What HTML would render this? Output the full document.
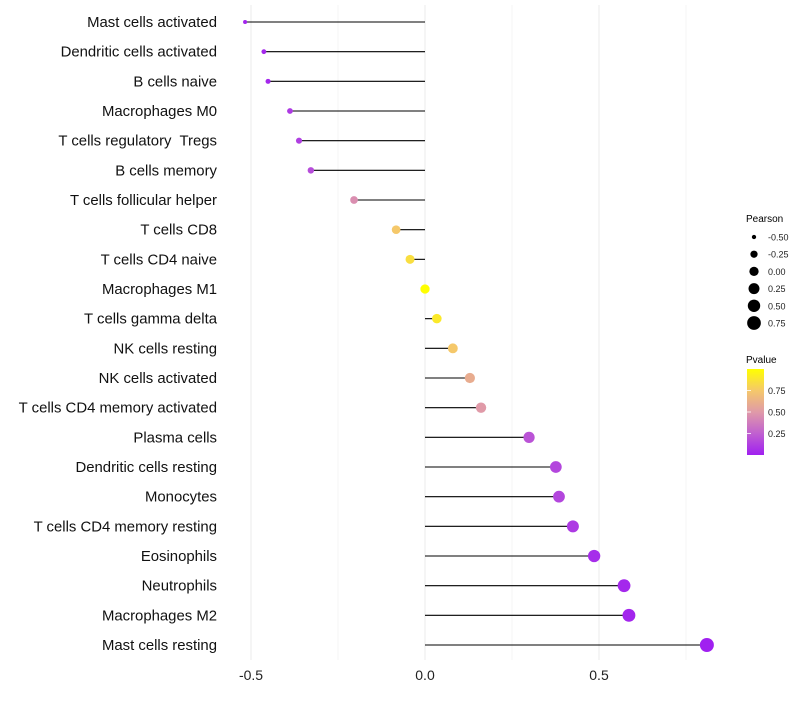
<!DOCTYPE html>
<html><head><meta charset="utf-8"><style>
body{margin:0;background:#fff;font-family:"Liberation Sans",sans-serif;}
svg text{font-family:"Liberation Sans",sans-serif;white-space:pre;}
</style></head><body>
<svg id="chart" width="800" height="700" xmlns="http://www.w3.org/2000/svg">
<defs><linearGradient id="pg" x1="0" y1="1" x2="0" y2="0">
<stop offset="0" stop-color="#a020f0"/><stop offset="0.25" stop-color="#c060d0"/><stop offset="0.5" stop-color="#e09aa8"/><stop offset="0.75" stop-color="#f5c86a"/><stop offset="1" stop-color="#ffff00"/>
</linearGradient></defs>
<g id="grid"></g>
<g id="marks"></g>
<g id="ylabels"></g>
<g id="xlabels"></g>
<g>
<text x="746" y="222" font-size="10">Pearson</text>
<g id="sizeleg"></g>
</g>
<g>
<text x="746" y="363" font-size="10">Pvalue</text>
<rect x="747" y="369" width="17" height="86" fill="url(#pg)"/>
<g id="colleg"></g>
</g>
</svg>
<script>
const categories=["Mast cells activated","Dendritic cells activated","B cells naive","Macrophages M0","T cells regulatory  Tregs","B cells memory","T cells follicular helper","T cells CD8","T cells CD4 naive","Macrophages M1","T cells gamma delta","NK cells resting","NK cells activated","T cells CD4 memory activated","Plasma cells","Dendritic cells resting","Monocytes","T cells CD4 memory resting","Eosinophils","Neutrophils","Macrophages M2","Mast cells resting"];
const pearson=[-0.517,-0.463,-0.451,-0.388,-0.362,-0.328,-0.204,-0.083,-0.043,0,0.034,0.080,0.129,0.161,0.299,0.376,0.385,0.425,0.486,0.572,0.586,0.810];
const pvalues=[0.02,0.03,0.03,0.1,0.12,0.17,0.45,0.75,0.85,1.0,0.9,0.75,0.6,0.5,0.2,0.15,0.15,0.1,0.05,0.03,0.02,0.001];
const xTicks=[-0.5,0,0.5];
const xTickLabels=["-0.5","0.0","0.5"];
const sizeLegendValues=[-0.5,-0.25,0,0.25,0.5,0.75];
const sizeLegendLabels=["-0.50","-0.25","0.00","0.25","0.50","0.75"];
const colorLegendValues=[0.25,0.5,0.75];
const colorLegendLabels=["0.25","0.50","0.75"];

const NS="http://www.w3.org/2000/svg";
const xs=v=>425+v*348;
const ys=i=>22+i*(623/21);
const rs=v=>Math.sqrt(Math.max(1,4+(v+0.52)*33.8));
const stops=[[0,[160,32,240]],[0.25,[192,96,208]],[0.5,[224,154,168]],[0.75,[245,200,106]],[1,[255,255,0]]];
function col(p){for(let k=1;k<stops.length;k++){if(p<=stops[k][0]){const a=stops[k-1],b=stops[k];const t=(p-a[0])/(b[0]-a[0]);const c=a[1].map((x,j)=>Math.round(x+(b[1][j]-x)*t));return `rgb(${c})`;}}return "rgb(255,255,0)";}
function mk(tag,attrs,parent){const e=document.createElementNS(NS,tag);for(const k in attrs)e.setAttribute(k,attrs[k]);parent.appendChild(e);return e;}
const grid=document.getElementById('grid'),marks=document.getElementById('marks'),yl=document.getElementById('ylabels'),xl=document.getElementById('xlabels');
for(let k=0;k<6;k++){const v=-0.5+k*0.25;const major=(k%2===0);const g=mk('line',{x1:xs(v),x2:xs(v),y1:5,y2:660,stroke:major?'#ebebeb':'#f4f4f4','stroke-width':1},grid);

}
xTicks.forEach((v,i)=>{const t=mk('text',{x:xs(v),y:680,'font-size':14,'text-anchor':'middle',fill:'#222'},xl);t.textContent=xTickLabels[i];

});
categories.forEach((c,i)=>{const y=ys(i);
const l=mk('line',{x1:xs(0),x2:xs(pearson[i]),y1:y,y2:y,stroke:'#000','stroke-width':1.1},marks);


const d=mk('circle',{cx:xs(pearson[i]),cy:y,r:rs(pearson[i]),fill:col(pvalues[i])},marks);


const t=mk('text',{x:217,y:y+5,'font-size':14.9,'text-anchor':'end',fill:'#111'},yl);t.textContent=c;

});
const sl=document.getElementById('sizeleg');
sizeLegendValues.forEach((v,i)=>{const y=237+i*17.2;
const c=mk('circle',{cx:754,cy:y,r:rs(v),fill:'#000'},sl);


const t=mk('text',{x:768,y:y+3.5,'font-size':9,fill:'#222'},sl);t.textContent=sizeLegendLabels[i];

});
const cl=document.getElementById('colleg');
colorLegendValues.forEach((v,i)=>{const y=455-v*86;
const t=mk('text',{x:768,y:y+3.5,'font-size':9,fill:'#222'},cl);t.textContent=colorLegendLabels[i];


const k=mk('line',{x1:747,x2:751,y1:y,y2:y,stroke:'#fff','stroke-width':0.8},cl);

});
</script>
</body></html>
